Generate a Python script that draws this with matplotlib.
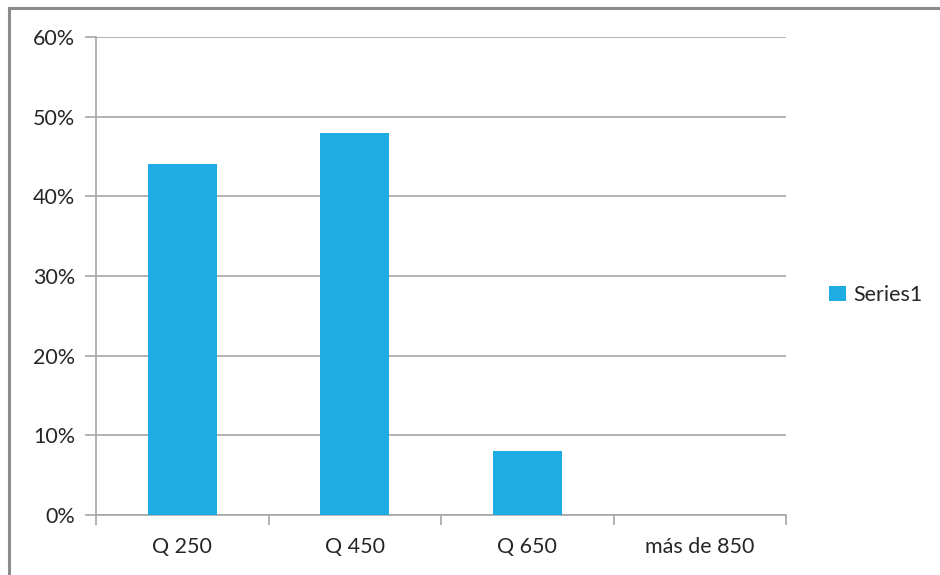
import matplotlib.pyplot as plt
from matplotlib.patches import Rectangle
from matplotlib.ticker import PercentFormatter

categories = ["Q 250", "Q 450", "Q 650", "más de 850"]
shares = [0.44, 0.48, 0.08, 0.0]
series_name = "Series1"

bar_color = "#1FACE3"
grid_color = "#A6A6A6"
text_color = "#262626"

plt.rcParams["font.family"] = ["Lato", "DejaVu Sans"]

fig = plt.figure(figsize=(9.4, 5.75), dpi=100)
fig.patch.set_facecolor("white")

# outer chart frame, cut off by the right and bottom edges
fig.patches.append(Rectangle((9 / 940, -0.05), 1.1, 1 - 8 / 575 + 0.05,
                             transform=fig.transFigure, fill=False,
                             edgecolor="#8C8C8C", linewidth=2.2, clip_on=False))

ax = fig.add_axes([96 / 940, 60 / 575, 690 / 940, 478 / 575])
x = range(len(categories))
ax.bar(x, shares, width=0.4, color=bar_color, label=series_name, zorder=3)

ax.set_xlim(-0.5, len(categories) - 0.5)
ax.set_ylim(0, 0.6)
ax.set_yticks([i / 10 for i in range(7)])
ax.yaxis.set_major_formatter(PercentFormatter(1.0, decimals=0))
ax.grid(True, axis="y", color=grid_color, linewidth=1.2, zorder=0)

ax.set_xticks(list(x))
ax.set_xticklabels(categories)
ax.tick_params(axis="x", length=0, pad=16, labelsize=15.5, labelcolor=text_color)
# category boundary ticks
ax.set_xticks([i - 0.5 for i in range(len(categories) + 1)], minor=True)
ax.tick_params(axis="x", which="minor", length=7, width=1.2, color=grid_color)
ax.tick_params(axis="y", length=8, width=1.2, color=grid_color, pad=7,
               labelsize=15.5, labelcolor=text_color)

for side in ["top", "right"]:
    ax.spines[side].set_visible(False)
for side in ["left", "bottom"]:
    ax.spines[side].set_color(grid_color)
    ax.spines[side].set_linewidth(1.2)

leg = fig.legend(loc="center left", bbox_to_anchor=(810 / 940, 1 - 295 / 575),
                 frameon=False, fontsize=15.5, handlelength=0.75, handleheight=0.75,
                 handletextpad=0.35)
for t in leg.get_texts():
    t.set_color(text_color)

fig.savefig("out.png", dpi=100)
